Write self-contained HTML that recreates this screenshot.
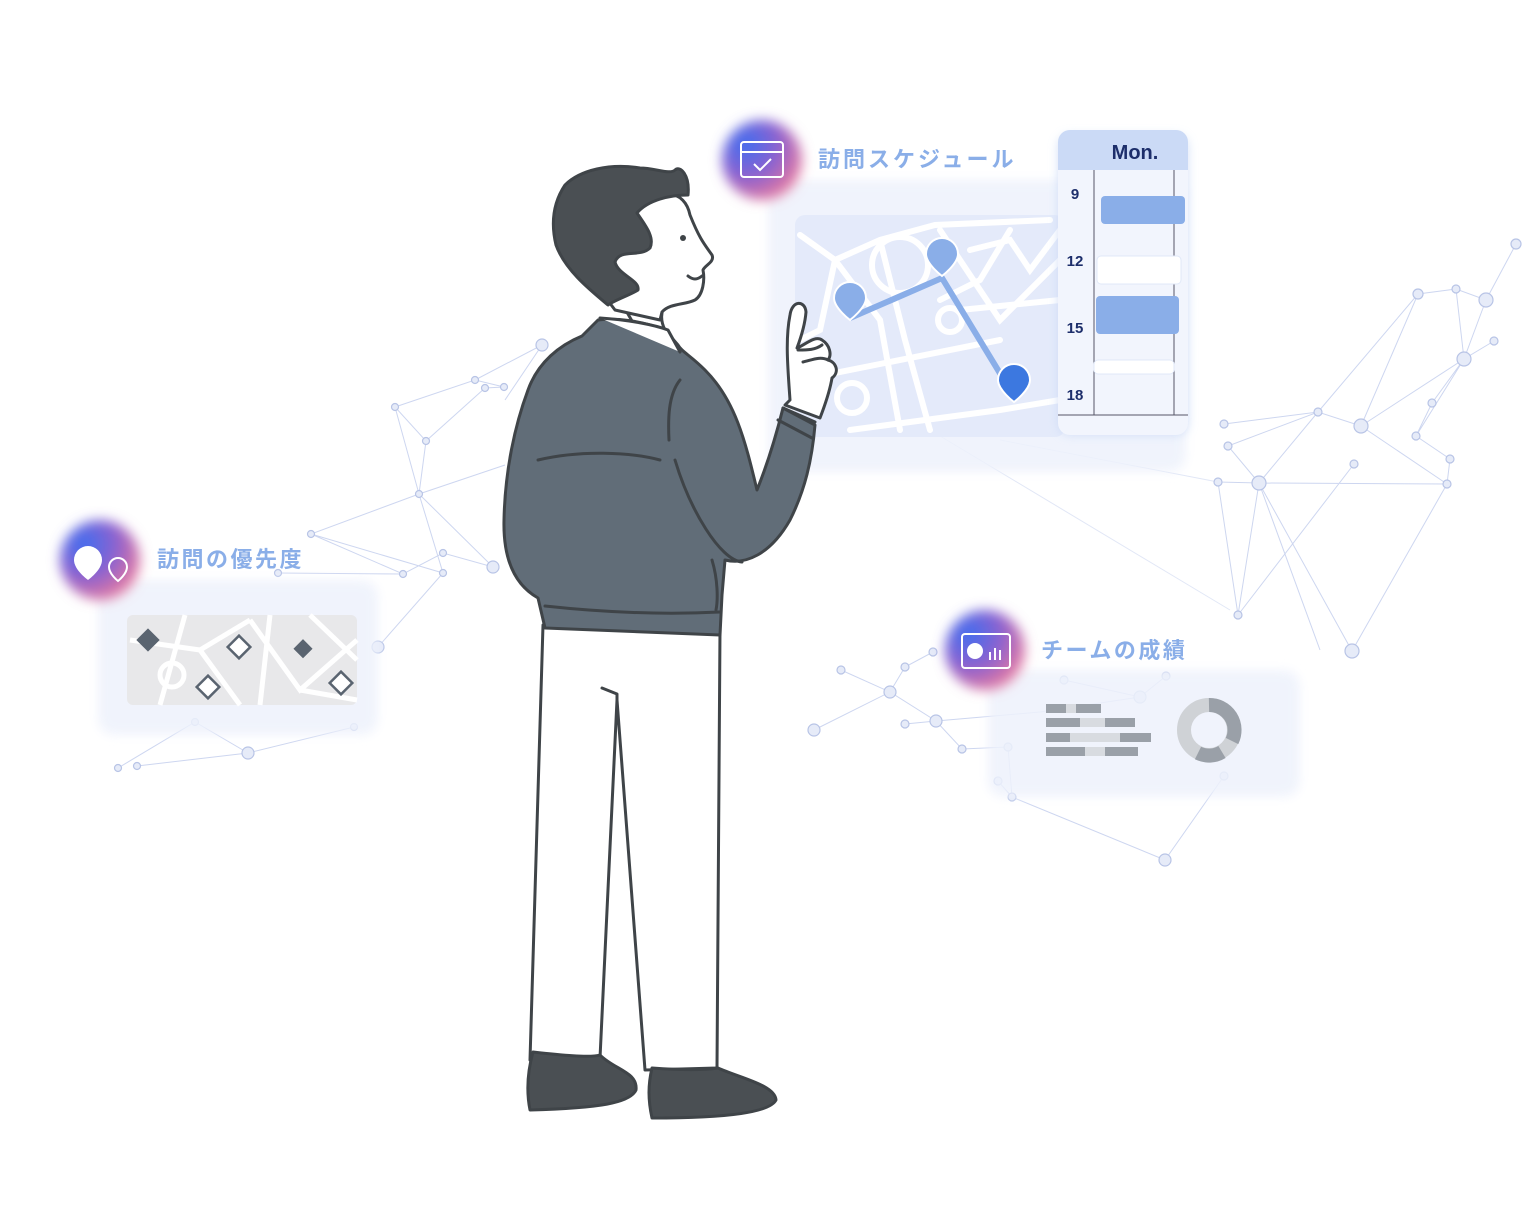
<!DOCTYPE html>
<html><head><meta charset="utf-8"><style>
html,body{margin:0;padding:0;background:#fff;}
svg{display:block;}
text{font-family:"Liberation Sans","Noto Sans CJK JP",sans-serif;}
</style></head><body>
<svg width="1527" height="1224" viewBox="0 0 1527 1224" xmlns="http://www.w3.org/2000/svg">
<defs>
<radialGradient id="ig" cx="30%" cy="30%" r="80%">
<stop offset="0" stop-color="#3f6ff0"/><stop offset="0.5" stop-color="#8a62d0"/><stop offset="1" stop-color="#f07c9a"/>
</radialGradient>
<filter id="blur" x="-30%" y="-30%" width="160%" height="160%"><feGaussianBlur stdDeviation="6"/></filter>
<filter id="sh" x="-20%" y="-20%" width="140%" height="140%"><feGaussianBlur stdDeviation="5"/></filter>
</defs>

<g stroke="#c8d2ee" stroke-width="1" fill="none" opacity="0.9">
<path d="M542,345 L475,380 L395,407 L426,441 L419,494 L311,534 L403,574 L443,553 L493,567 L419,494 L505,465 M475,380 L504,387 L485,388 L426,441 M395,407 L419,494 L443,573 L378,647 M403,574 L278,573 M311,534 L443,573 M542,345 L505,400"/>
<path d="M118,768 L195,722 L248,753 L354,727 M137,766 L248,753 M195,722 L118,768"/>
<path d="M1516,244 L1486,300 L1456,289 L1418,294 L1361,426 L1318,412 L1228,446 L1259,483 L1218,482 L1238,615 L1259,483 L1352,651 M1486,300 L1464,359 L1416,436 L1450,459 L1447,484 L1259,483 M1361,426 L1447,484 M1494,341 L1464,359 L1432,403 L1416,436 M1456,289 L1464,359 L1361,426 M1224,424 L1318,412 L1259,483 M1354,464 L1238,615 M1259,483 L1320,650 M1418,294 L1318,412 M1447,484 L1352,651"/>
<path d="M814,730 L890,692 L936,721 L962,749 L1008,747 L1012,797 L1165,860 L1224,776 M841,670 L890,692 L905,667 L933,652 M905,724 L936,721 L1040,712 L1140,697 L1166,676 M998,781 L1012,797 M1064,680 L1140,697"/>
<path d="M930,430 L1230,610 M1000,440 L1218,482" opacity="0.6"/>
</g>
<g fill="#e6ebf8" stroke="#b8c4e6" stroke-width="1.2">
<circle cx="542" cy="345" r="6"/><circle cx="475" cy="380" r="3.5"/><circle cx="504" cy="387" r="3.5"/><circle cx="485" cy="388" r="3.5"/><circle cx="395" cy="407" r="3.5"/><circle cx="426" cy="441" r="3.5"/><circle cx="419" cy="494" r="3.5"/><circle cx="311" cy="534" r="3.5"/><circle cx="403" cy="574" r="3.5"/><circle cx="443" cy="553" r="3.5"/><circle cx="443" cy="573" r="3.5"/><circle cx="493" cy="567" r="6"/><circle cx="378" cy="647" r="6"/><circle cx="278" cy="573" r="3.5"/>
<circle cx="118" cy="768" r="3.5"/><circle cx="137" cy="766" r="3.5"/><circle cx="195" cy="722" r="3.5"/><circle cx="248" cy="753" r="6"/><circle cx="354" cy="727" r="3.5"/>
<circle cx="1516" cy="244" r="5"/><circle cx="1486" cy="300" r="7"/><circle cx="1456" cy="289" r="4"/><circle cx="1418" cy="294" r="5"/><circle cx="1494" cy="341" r="4"/><circle cx="1464" cy="359" r="7"/><circle cx="1432" cy="403" r="4"/><circle cx="1416" cy="436" r="4"/><circle cx="1450" cy="459" r="4"/><circle cx="1447" cy="484" r="4"/><circle cx="1361" cy="426" r="7"/><circle cx="1318" cy="412" r="4"/><circle cx="1354" cy="464" r="4"/><circle cx="1224" cy="424" r="4"/><circle cx="1228" cy="446" r="4"/><circle cx="1259" cy="483" r="7"/><circle cx="1218" cy="482" r="4"/><circle cx="1238" cy="615" r="4"/><circle cx="1352" cy="651" r="7"/>
<circle cx="814" cy="730" r="6"/><circle cx="841" cy="670" r="4"/><circle cx="890" cy="692" r="6"/><circle cx="905" cy="667" r="4"/><circle cx="905" cy="724" r="4"/><circle cx="933" cy="652" r="4"/><circle cx="936" cy="721" r="6"/><circle cx="962" cy="749" r="4"/><circle cx="1008" cy="747" r="4"/><circle cx="998" cy="781" r="4"/><circle cx="1012" cy="797" r="4"/><circle cx="1165" cy="860" r="6"/><circle cx="1224" cy="776" r="4"/><circle cx="1140" cy="697" r="6"/><circle cx="1166" cy="676" r="4"/><circle cx="1064" cy="680" r="4"/>
</g>

<rect x="768" y="180" width="418" height="292" rx="16" fill="#eef2fc" opacity="0.85" filter="url(#sh)"/>
<rect x="795" y="215" width="270" height="222" rx="10" fill="#e4eafa"/>
<g stroke="#ffffff" stroke-width="6" fill="none" stroke-linecap="round">
<path d="M800,235 L835,260 L880,240 L935,225 L1050,220"/>
<path d="M835,260 L820,330 L800,340"/>
<path d="M835,260 L880,320 L900,430"/>
<path d="M880,240 L905,340 L930,430"/>
<path d="M800,380 L1000,340"/>
<path d="M940,230 L1000,320 L1040,280 L1060,260"/>
<path d="M970,250 L1010,240 L1030,270 L1060,230"/>
<path d="M850,430 L1000,410 L1060,400"/>
<path d="M960,310 L1060,300"/>
<path d="M1010,230 L980,280 L940,300"/>
<circle cx="852" cy="398" r="15"/><circle cx="900" cy="265" r="28"/><circle cx="950" cy="320" r="12"/>
</g>
<path d="M850,318 L942,278 L1015,398" stroke="#8aaee8" stroke-width="6" fill="none"/>
<path d="M850,282 a16,16 0 0 1 16,16 c0,10 -16,22 -16,22 c0,0 -16,-12 -16,-22 a16,16 0 0 1 16,-16z" fill="#8aaee8" stroke="#fff" stroke-width="2"/>
<path d="M942,238 a16,16 0 0 1 16,16 c0,10 -16,22 -16,22 c0,0 -16,-12 -16,-22 a16,16 0 0 1 16,-16z" fill="#8aaee8" stroke="#fff" stroke-width="2"/>
<path d="M1014,364 a16,16 0 0 1 16,16 c0,10 -16,22 -16,22 c0,0 -16,-12 -16,-22 a16,16 0 0 1 16,-16z" fill="#3c78e0" stroke="#fff" stroke-width="2"/>
<rect x="1058" y="135" width="130" height="300" rx="12" fill="#c9d9f6" filter="url(#sh)" opacity="0.8"/>
<rect x="1058" y="130" width="130" height="305" rx="12" fill="#f2f5fd"/>
<path d="M1058,170 V142 a12,12 0 0 1 12,-12 H1176 a12,12 0 0 1 12,12 V170z" fill="#cbdaf6"/>
<text x="1135" y="159" font-size="20" font-weight="bold" fill="#1d2e6b" text-anchor="middle">Mon.</text>
<line x1="1094" y1="170" x2="1094" y2="415" stroke="#556" stroke-width="1"/>
<line x1="1174" y1="170" x2="1174" y2="415" stroke="#556" stroke-width="1"/>
<line x1="1058" y1="415" x2="1188" y2="415" stroke="#556" stroke-width="1"/>
<g font-size="15" font-weight="bold" fill="#1d2e6b" text-anchor="middle">
<text x="1075" y="199">9</text><text x="1075" y="266">12</text><text x="1075" y="333">15</text><text x="1075" y="400">18</text></g>
<rect x="1101" y="196" width="84" height="28" rx="4" fill="#8aaee8"/>
<rect x="1097" y="256" width="84" height="28" rx="4" fill="#fff" stroke="#e0e8f8"/>
<rect x="1096" y="296" width="83" height="38" rx="4" fill="#8aaee8"/>
<rect x="1094" y="360" width="80" height="14" rx="4" fill="#fff" stroke="#e0e8f8"/>

<rect x="98" y="580" width="280" height="155" rx="16" fill="#eef2fc" opacity="0.85" filter="url(#sh)"/>
<rect x="127" y="615" width="230" height="90" rx="6" fill="#e8e8ea"/>
<g stroke="#fff" stroke-width="5" fill="none">
<path d="M130,640 L200,650 L250,620 M185,615 L160,705 M200,650 L240,705 M250,620 L300,690 L357,640 M270,615 L260,705 M300,690 L357,700 M310,615 L357,660"/>
<circle cx="172" cy="675" r="12"/>
</g>
<g stroke="#5a6470" stroke-width="2.5" fill="#fff">
<rect x="141" y="633" width="14" height="14" transform="rotate(45 148 640)" fill="#5a6470"/>
<rect x="231" y="639" width="16" height="16" transform="rotate(45 239 647)"/>
<rect x="298" y="643" width="11" height="11" transform="rotate(45 303 648)" fill="#5a6470"/>
<rect x="200" y="679" width="16" height="16" transform="rotate(45 208 687)"/>
<rect x="333" y="675" width="16" height="16" transform="rotate(45 341 683)"/>
</g>

<rect x="988" y="670" width="312" height="127" rx="16" fill="#eef2fc" opacity="0.85" filter="url(#sh)"/>
<g fill="#9aa0a8">
<rect x="1046" y="704" width="55" height="9"/><rect x="1046" y="718" width="89" height="9"/><rect x="1046" y="733" width="105" height="9"/><rect x="1046" y="747" width="92" height="9"/></g>
<g fill="#d8dbe0"><rect x="1066" y="704" width="10" height="9"/><rect x="1080" y="718" width="25" height="9"/><rect x="1070" y="733" width="50" height="9"/><rect x="1085" y="747" width="20" height="9"/></g>
<circle cx="1209" cy="730" r="25" fill="none" stroke="#cfd2d6" stroke-width="14"/>
<path d="M1209,705 A25,25 0 0 1 1232,741" stroke="#9aa0a8" stroke-width="14" fill="none"/>
<path d="M1222,752 A25,25 0 0 1 1198,753" stroke="#9aa0a8" stroke-width="14" fill="none"/>

<circle cx="762" cy="160" r="40" fill="url(#ig)" filter="url(#blur)"/>
<rect x="741" y="142" width="42" height="35" rx="3" fill="none" stroke="#fff" stroke-width="2"/>
<line x1="741" y1="152" x2="783" y2="152" stroke="#fff" stroke-width="2"/>
<path d="M754,164 L760,170 L771,159" stroke="#fff" stroke-width="2" fill="none"/>
<text x="818" y="167" font-size="22" font-weight="bold" fill="#8aaee8" letter-spacing="3">訪問スケジュール</text>

<circle cx="100" cy="560" r="40" fill="url(#ig)" filter="url(#blur)"/>
<path d="M88,546 a14,14 0 0 1 14,14 c0,10 -14,20 -14,20 c0,0 -14,-10 -14,-20 a14,14 0 0 1 14,-14z" fill="#fff"/>
<path d="M118,558 a9,9 0 0 1 9,9 c0,7 -9,14 -9,14 c0,0 -9,-7 -9,-14 a9,9 0 0 1 9,-9z" fill="none" stroke="#fff" stroke-width="2"/>
<text x="157" y="567" font-size="22" font-weight="bold" fill="#8aaee8" letter-spacing="2.5">訪問の優先度</text>

<circle cx="985" cy="650" r="40" fill="url(#ig)" filter="url(#blur)"/>
<rect x="962" y="634" width="48" height="34" rx="3" fill="none" stroke="#fff" stroke-width="2"/>
<circle cx="975" cy="651" r="8" fill="#fff"/>
<g stroke="#fff" stroke-width="2"><line x1="990" y1="660" x2="990" y2="652"/><line x1="995" y1="660" x2="995" y2="648"/><line x1="1000" y1="660" x2="1000" y2="650"/></g>
<text x="1041" y="658" font-size="22" font-weight="bold" fill="#8aaee8" letter-spacing="2.5">チームの成績</text>

<g stroke="#3f4448" stroke-width="3" stroke-linejoin="round" stroke-linecap="round">
<path d="M543,625 L530,1060 L600,1058 L617,700 L645,1070 L717,1068 L720,630z" fill="#fff"/>
<path d="M602,688 L617,694 L617,720" fill="none"/>
<path d="M533,1052 C560,1055 590,1058 600,1055 C615,1070 638,1072 636,1090 C630,1103 600,1108 530,1110 C526,1090 528,1070 533,1052z" fill="#4a4f53"/>
<path d="M652,1068 C680,1070 705,1070 718,1068 C740,1078 775,1085 776,1100 C770,1112 730,1118 652,1118 C648,1100 648,1085 652,1068z" fill="#4a4f53"/>
<path d="M620,300 C640,305 660,300 668,300 C660,310 660,320 665,330 L640,335z" fill="#fff"/>
<path d="M598,320 L582,336 C560,345 538,362 528,390 C515,425 505,470 504,520 C503,560 515,585 538,598 L545,628 L720,635 L722,595 L725,560 C745,565 770,555 790,520 C805,490 812,460 815,425 L783,408 C775,440 765,470 757,490 C745,440 735,400 705,370 C690,355 682,352 678,345 L665,330 C640,320 615,318 598,320z" fill="#616d78"/>
<path d="M600,318 C630,320 655,325 668,330 L680,352" fill="#fff"/>
<path d="M538,460 C580,450 630,452 660,460 M680,380 C668,395 668,420 669,440 M675,460 C690,510 720,560 742,562 M545,606 C600,612 660,615 720,612 M712,560 C718,580 718,600 716,610" fill="none"/>
<path d="M783,408 L815,422 M778,420 L812,438" fill="none"/>
<path d="M790,400 C788,370 785,340 790,315 C792,300 805,300 806,312 C805,325 800,340 797,348 C805,345 815,335 822,340 C830,345 832,355 828,360 C836,362 840,372 832,378 C830,390 825,405 820,418 L785,405z" fill="#fff"/>
<path d="M798,350 C808,350 815,350 822,345 M803,362 C812,360 820,356 828,360" fill="none"/>
<path d="M630,210 C660,185 685,190 690,215 C700,240 705,245 712,255 C715,262 705,265 703,270 C705,280 703,295 695,300 C685,305 670,303 662,312 L660,320 L615,310 L600,290 C620,250 625,230 630,210z" fill="#fff"/>
<path d="M608,305 C590,290 565,270 556,245 C550,220 555,200 565,185 C580,170 610,163 640,168 C655,168 670,175 675,170 C680,165 690,175 688,195 C670,195 648,200 637,213 C645,225 655,237 650,248 C640,258 620,248 615,262 C618,275 640,280 638,290 C630,295 615,300 608,305z" fill="#4a4f53"/>
<path d="M688,276 C693,280 697,280 702,276" fill="none"/>
</g>
<circle cx="683" cy="238" r="3" fill="#3f4448"/>
</svg>
</body></html>
